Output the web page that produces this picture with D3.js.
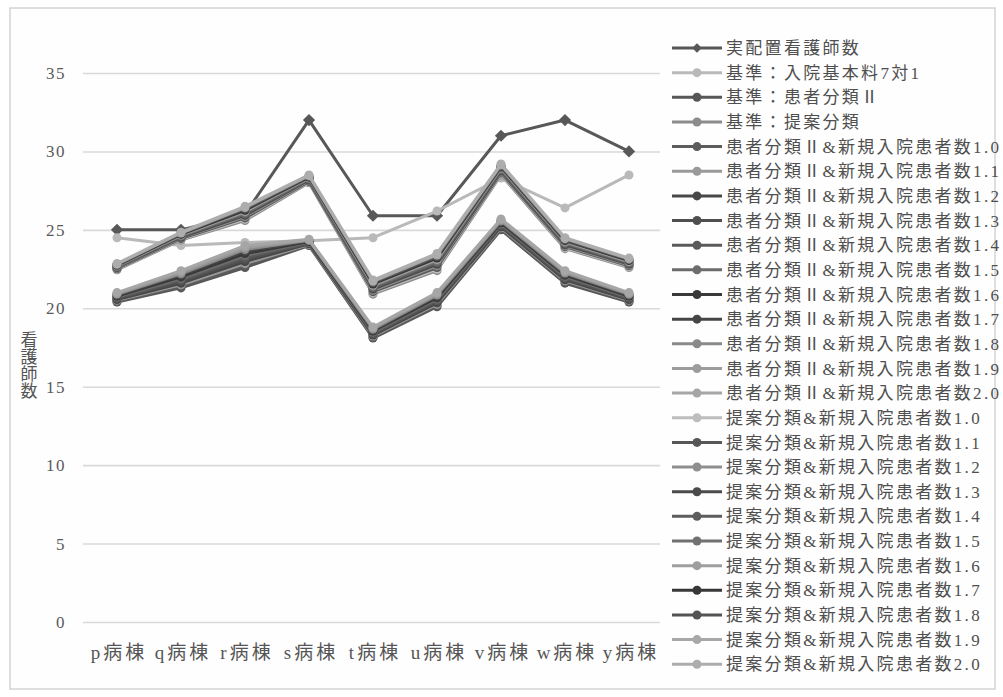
<!DOCTYPE html>
<html>
<head>
<meta charset="utf-8">
<script src="https://cdn.jsdelivr.net/npm/d3@7"></script>
<style>
  html, body { margin: 0; padding: 0; background: #ffffff; }
  svg { display: block; }
  text { font-family: "Liberation Serif", "Noto Sans CJK JP", serif; }
</style>
</head>
<body>
<svg id="chart" width="1003" height="697"></svg>
<script>
// ---- data ----
const wards = ["p病棟", "q病棟", "r病棟", "s病棟", "t病棟", "u病棟", "v病棟", "w病棟", "y病棟"];
const yTicks = [0, 5, 10, 15, 20, 25, 30, 35];
const yTitle = "看護師数";

const actualStaff   = [25.0, 25.0, 26.0, 32.0, 25.9, 25.9, 31.0, 32.0, 30.0];
const basis7to1     = [24.5, 24.0, 24.2, 24.3, 24.5, 26.2, 28.3, 26.4, 28.5];
const basisClassII  = [20.40, 21.30, 22.60, 24.00, 18.10, 20.10, 25.00, 21.60, 20.40];
const basisProposed = [22.45, 24.35, 25.60, 28.00, 20.90, 22.40, 28.50, 23.80, 22.60];

// 患者分類Ⅱ & 新規入院患者数 (weight 1.0 – 2.0)
const classII_10 = [20.45, 21.40, 22.73, 24.04, 18.16, 20.18, 25.06, 21.67, 20.45];
const classII_11 = [20.51, 21.50, 22.85, 24.07, 18.23, 20.26, 25.13, 21.75, 20.51];
const classII_12 = [20.56, 21.60, 22.98, 24.11, 18.29, 20.35, 25.19, 21.82, 20.56];
const classII_13 = [20.62, 21.70, 23.11, 24.15, 18.35, 20.43, 25.25, 21.89, 20.62];
const classII_14 = [20.67, 21.80, 23.24, 24.18, 18.42, 20.51, 25.32, 21.96, 20.67];
const classII_15 = [20.73, 21.90, 23.36, 24.22, 18.48, 20.59, 25.38, 22.04, 20.73];
const classII_16 = [20.78, 22.00, 23.49, 24.25, 18.55, 20.67, 25.45, 22.11, 20.78];
const classII_17 = [20.84, 22.10, 23.62, 24.29, 18.61, 20.75, 25.51, 22.18, 20.84];
const classII_18 = [20.89, 22.20, 23.75, 24.33, 18.67, 20.84, 25.57, 22.25, 20.89];
const classII_19 = [20.95, 22.30, 23.87, 24.36, 18.74, 20.92, 25.64, 22.33, 20.95];
const classII_20 = [21.00, 22.40, 24.00, 24.40, 18.80, 21.00, 25.70, 22.40, 21.00];

// 提案分類 & 新規入院患者数 (weight 1.0 – 2.0)
const proposed_10 = [22.49, 24.40, 25.68, 28.05, 20.98, 22.50, 28.56, 23.86, 22.65];
const proposed_11 = [22.52, 24.44, 25.76, 28.09, 21.06, 22.60, 28.63, 23.93, 22.71];
const proposed_12 = [22.56, 24.49, 25.85, 28.14, 21.15, 22.70, 28.69, 23.99, 22.76];
const proposed_13 = [22.60, 24.53, 25.93, 28.18, 21.23, 22.80, 28.75, 24.05, 22.82];
const proposed_14 = [22.63, 24.58, 26.01, 28.23, 21.31, 22.90, 28.82, 24.12, 22.87];
const proposed_15 = [22.67, 24.62, 26.09, 28.27, 21.39, 23.00, 28.88, 24.18, 22.93];
const proposed_16 = [22.70, 24.67, 26.17, 28.32, 21.47, 23.10, 28.95, 24.25, 22.98];
const proposed_17 = [22.74, 24.71, 26.25, 28.36, 21.55, 23.20, 29.01, 24.31, 23.04];
const proposed_18 = [22.78, 24.76, 26.34, 28.41, 21.64, 23.30, 29.07, 24.37, 23.09];
const proposed_19 = [22.81, 24.80, 26.42, 28.45, 21.72, 23.40, 29.14, 24.44, 23.15];
const proposed_20 = [22.85, 24.85, 26.50, 28.50, 21.80, 23.50, 29.20, 24.50, 23.20];

const seriesNames = [
  "実配置看護師数", "基準：入院基本料7対1", "基準：患者分類Ⅱ", "基準：提案分類",
  "患者分類Ⅱ&新規入院患者数1.0", "患者分類Ⅱ&新規入院患者数1.1", "患者分類Ⅱ&新規入院患者数1.2",
  "患者分類Ⅱ&新規入院患者数1.3", "患者分類Ⅱ&新規入院患者数1.4", "患者分類Ⅱ&新規入院患者数1.5",
  "患者分類Ⅱ&新規入院患者数1.6", "患者分類Ⅱ&新規入院患者数1.7", "患者分類Ⅱ&新規入院患者数1.8",
  "患者分類Ⅱ&新規入院患者数1.9", "患者分類Ⅱ&新規入院患者数2.0",
  "提案分類&新規入院患者数1.0", "提案分類&新規入院患者数1.1", "提案分類&新規入院患者数1.2",
  "提案分類&新規入院患者数1.3", "提案分類&新規入院患者数1.4", "提案分類&新規入院患者数1.5",
  "提案分類&新規入院患者数1.6", "提案分類&新規入院患者数1.7", "提案分類&新規入院患者数1.8",
  "提案分類&新規入院患者数1.9", "提案分類&新規入院患者数2.0"
];
const seriesValues = [
  actualStaff, basis7to1, basisClassII, basisProposed,
  classII_10, classII_11, classII_12, classII_13, classII_14, classII_15,
  classII_16, classII_17, classII_18, classII_19, classII_20,
  proposed_10, proposed_11, proposed_12, proposed_13, proposed_14, proposed_15,
  proposed_16, proposed_17, proposed_18, proposed_19, proposed_20
];
const seriesColors = [
  "#585858", "#b9b9b9", "#575757", "#8c8c8c",
  "#5c5c5c", "#9a9a9a", "#474747", "#4f4f4f", "#5a5a5a", "#6c6c6c",
  "#393939", "#454545", "#8a8a8a", "#9c9c9c", "#a6a6a6",
  "#bdbdbd", "#575757", "#8e8e8e", "#4b4b4b", "#5d5d5d", "#717171",
  "#9e9e9e", "#373737", "#545454", "#a8a8a8", "#adadad"
];

// ---- layout ----
const svg = d3.select("#chart");
const W = 1003, H = 697;
const plot = { left: 83, right: 660, top: 73, bottom: 622 };

svg.append("rect").attr("x", 0).attr("y", 0).attr("width", W).attr("height", H).attr("fill", "#ffffff");
svg.append("rect")
  .attr("x", 10).attr("y", 8).attr("width", 985).attr("height", 681)
  .attr("fill", "#fefefe").attr("stroke", "#d4d4d4").attr("stroke-width", 1.5);

const x = d3.scalePoint().domain(wards).range([plot.left + 2, plot.right + 1]).padding(0.5);
const y = d3.scaleLinear().domain([0, 35]).range([plot.bottom, plot.top]);

// gridlines + y labels
const yAxis = d3.axisLeft(y).tickValues(yTicks).tickSize(-(plot.right - plot.left)).tickPadding(17);
const gy = svg.append("g").attr("transform", `translate(${plot.left},0)`).call(yAxis);
gy.select(".domain").remove();
gy.selectAll(".tick line").attr("stroke", "#d9d9d9").attr("stroke-width", 1.6);
gy.selectAll(".tick text")
  .attr("fill", "#5a5a5a").attr("font-size", 17).attr("letter-spacing", 1.5)
  .style("font-family", '"Liberation Serif", serif');

// x labels
const xAxis = d3.axisBottom(x).tickSize(0).tickPadding(24);
const gx = svg.append("g").attr("transform", `translate(0,${plot.bottom})`).call(xAxis);
gx.select(".domain").remove();
gx.selectAll(".tick text")
  .attr("fill", "#555555").attr("font-size", 19).attr("letter-spacing", 3)
  .attr("dx", 1.5);

// y title, stacked characters
const yt = svg.append("text").attr("fill", "#555555").attr("font-size", 17).attr("text-anchor", "middle");
Array.from(yTitle).forEach((ch, i) => {
  yt.append("tspan").attr("x", 29).attr("y", 346 + i * 17).text(ch);
});

// series
const line = d3.line().x((d, i) => x(wards[i])).y(d => y(d));
const series = seriesNames.map((name, k) => ({ name, values: seriesValues[k], color: seriesColors[k], diamond: k === 0 }));
const diamond = d3.symbol().type(d3.symbolDiamond2).size(95);
const legendDiamond = d3.symbol().type(d3.symbolDiamond2).size(60);

const gs = svg.append("g");
series.forEach(s => {
  const g = gs.append("g");
  g.append("path").datum(s.values)
    .attr("d", line).attr("fill", "none")
    .attr("stroke", s.color).attr("stroke-width", 3).attr("stroke-linejoin", "round");
  if (s.diamond) {
    g.selectAll("path.m").data(s.values).join("path").attr("class", "m")
      .attr("d", diamond)
      .attr("transform", (d, i) => `translate(${x(wards[i])},${y(d)})`)
      .attr("fill", s.color);
  } else {
    g.selectAll("circle").data(s.values).join("circle")
      .attr("cx", (d, i) => x(wards[i])).attr("cy", d => y(d)).attr("r", 4.5)
      .attr("fill", s.color);
  }
});

// legend
const lg = svg.append("g");
series.forEach((s, k) => {
  const ry = 48 + k * 24.65;
  const row = lg.append("g").attr("transform", `translate(0,${ry})`);
  row.append("line").attr("x1", 672).attr("x2", 722).attr("y1", 0).attr("y2", 0)
    .attr("stroke", s.color).attr("stroke-width", 3);
  if (s.diamond) {
    row.append("path").attr("d", legendDiamond).attr("transform", "translate(697,0)").attr("fill", s.color);
  } else {
    row.append("circle").attr("cx", 697).attr("cy", 0).attr("r", 4.5).attr("fill", s.color);
  }
  row.append("text").attr("x", 726).attr("y", 0).attr("dy", "0.36em")
    .attr("fill", "#4f4f4f").attr("font-size", 17).attr("letter-spacing", 2.3)
    .text(s.name);
});
</script>
</body>
</html>
